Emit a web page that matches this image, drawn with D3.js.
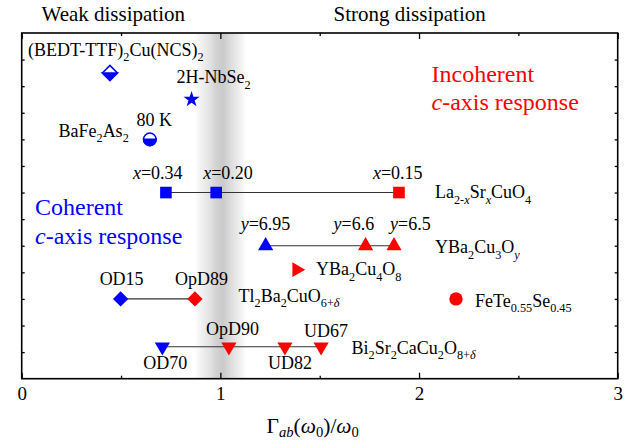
<!DOCTYPE html>
<html>
<head>
<meta charset="utf-8">
<script src="https://cdn.jsdelivr.net/npm/d3@7"></script>
<style>
  body { margin: 0; background: #fff; }
  svg text { font-family: "Liberation Serif", "DejaVu Serif", serif; }
</style>
</head>
<body>
<div id="chart"></div>
<script>
// ---- data ----
var laX = [0.726, 0.979, 1.899];          // La2-xSrxCuO4, y level 7
var laColor = ["blue", "blue", "red"];
var ybcoX = [1.228, 1.731, 1.874];        // YBa2Cu3Oy, y level 5
var ybcoColor = ["blue", "red", "red"];
var tlX = [0.498, 0.872];                 // Tl2201, y level 3
var tlColor = ["blue", "red"];
var biX = [0.708, 1.043, 1.325, 1.507];   // Bi2212, y level 1.2
var biColor = ["blue", "red", "red", "red"];
var rowLevels = { la: 7, ybco: 5, tl: 3, bi: 1.2 };

var singles = [
    { name: "bedt", x: 0.444, y: 11.5, kind: "halfDiamond", color: "blue" },
    { name: "nbse", x: 0.855, y: 10.5, kind: "star", color: "blue" },
    { name: "bafe", x: 0.645, y: 9.0, kind: "halfCircle", color: "blue" },
    { name: "y124", x: 1.384, y: 4.1, kind: "triRight", color: "red" },
    { name: "fete", x: 2.186, y: 3.0, kind: "circle", color: "red" }
];

var xTicksMajor = [0, 1, 2, 3];
var xTicksMinor = [0.5, 1.5, 2.5];
var yTicks = d3.range(1, 13);

var W = 641, H = 441;
var plot = { left: 21.7, right: 617.7, top: 33, bottom: 378.7 };
var SERIF = "'Liberation Serif', 'DejaVu Serif', serif";

var x = d3.scaleLinear().domain([0, 3]).range([plot.left, plot.right]);
var y = d3.scaleLinear().domain([0, 13]).range([plot.bottom, plot.top]);

var svg = d3.select("#chart").append("svg")
    .attr("width", W)
    .attr("height", H);

// gray band around Gamma/omega = 1
var defs = svg.append("defs");
var grad = defs.append("linearGradient").attr("id", "band");
[[0, "#ffffff"], [0.12, "#f2f2f2"], [0.3, "#e2e2e2"], [0.42, "#d2d2d2"],
 [0.55, "#cacaca"], [0.7, "#dcdcdc"], [0.85, "#ececec"], [1, "#ffffff"]]
    .forEach(function(s) {
        grad.append("stop").attr("offset", s[0]).attr("stop-color", s[1]);
    });
svg.append("rect")
    .attr("x", x(0.87))
    .attr("y", plot.top)
    .attr("width", x(1.13) - x(0.87))
    .attr("height", plot.bottom - plot.top)
    .attr("fill", "url(#band)");

// ---- axes ----
function styleAxis(g) {
    g.attr("font-family", SERIF);
    g.select(".domain").remove();
    g.selectAll(".tick line").attr("stroke", "#000").attr("stroke-width", 1.3);
}

svg.append("g").attr("transform", "translate(0," + plot.bottom + ")")
    .call(d3.axisBottom(x).tickValues(xTicksMajor).tickSize(-6).tickPadding(8)
        .tickFormat(d3.format("d")))
    .call(styleAxis)
    .selectAll("text").attr("font-size", 19).attr("font-family", SERIF);
svg.append("g").attr("transform", "translate(0," + plot.bottom + ")")
    .call(d3.axisBottom(x).tickValues(xTicksMinor).tickSize(-3).tickFormat(""))
    .call(styleAxis);
svg.append("g").attr("transform", "translate(0," + plot.top + ")")
    .call(d3.axisTop(x).tickValues(xTicksMajor).tickSize(-6).tickFormat(""))
    .call(styleAxis);
svg.append("g").attr("transform", "translate(0," + plot.top + ")")
    .call(d3.axisTop(x).tickValues(xTicksMinor).tickSize(-3).tickFormat(""))
    .call(styleAxis);
svg.append("g").attr("transform", "translate(" + plot.left + ",0)")
    .call(d3.axisLeft(y).tickValues(yTicks).tickSize(-3).tickFormat(""))
    .call(styleAxis);
svg.append("g").attr("transform", "translate(" + plot.right + ",0)")
    .call(d3.axisRight(y).tickValues(yTicks).tickSize(-3).tickFormat(""))
    .call(styleAxis);

svg.append("rect")
    .attr("x", plot.left).attr("y", plot.top)
    .attr("width", plot.right - plot.left).attr("height", plot.bottom - plot.top)
    .attr("fill", "none").attr("stroke", "#000").attr("stroke-width", 1.6);

// ---- rich text helper: segs = [[text, flags]] flags: s=subscript, i=italic ----
function rich(px, py, segs, size, color, shiftK) {
    var t = svg.append("text")
        .attr("x", px).attr("y", py)
        .attr("font-family", SERIF)
        .attr("font-size", size)
        .attr("fill", color || "#000");
    var shifted = false;
    var sh = size * (shiftK || 0.32);
    segs.forEach(function(s) {
        var f = s[1] || "";
        var sub = f.indexOf("s") >= 0;
        var sp = t.append("tspan").text(s[0]);
        if (sub && !shifted) { sp.attr("dy", sh); shifted = true; }
        if (!sub && shifted) { sp.attr("dy", -sh); shifted = false; }
        if (sub) sp.attr("font-size", size * 0.68);
        if (f.indexOf("i") >= 0) sp.attr("font-style", "italic");
    });
    return t;
}

// ---- connecting lines ----
var rows = [
    { xs: laX, level: rowLevels.la },
    { xs: ybcoX, level: rowLevels.ybco },
    { xs: tlX, level: rowLevels.tl },
    { xs: biX, level: rowLevels.bi }
];
svg.selectAll("line.row").data(rows).enter().append("line")
    .attr("class", "row")
    .attr("x1", function(d) { return x(d3.min(d.xs)); })
    .attr("x2", function(d) { return x(d3.max(d.xs)); })
    .attr("y1", function(d) { return y(d.level); })
    .attr("y2", function(d) { return y(d.level); })
    .attr("stroke", "#333").attr("stroke-width", 1.1);

// ---- markers ----
function sym(type, size, rot, data, colors, level) {
    svg.selectAll(null).data(data).enter().append("path")
        .attr("d", d3.symbol().type(type).size(size)())
        .attr("transform", function(d) {
            return "translate(" + x(d) + "," + y(level) + ") rotate(" + rot + ")";
        })
        .attr("fill", function(d, i) { return colors[i]; });
}

sym(d3.symbolSquare, 135, 0, laX, laColor, rowLevels.la);
sym(d3.symbolTriangle, 100, 0, ybcoX, ybcoColor, rowLevels.ybco);
sym(d3.symbolSquare, 118, 45, tlX, tlColor, rowLevels.tl);
sym(d3.symbolTriangle, 100, 180, biX, biColor, rowLevels.bi);

singles.forEach(function(p) {
    var cx = x(p.x), cy = y(p.y);
    var g = svg.append("g").attr("transform", "translate(" + cx + "," + cy + ")");
    if (p.kind === "halfDiamond") {
        var d = 7.5;
        g.append("path").attr("d", "M0," + (-d) + "L" + d + ",0L0," + d + "L" + (-d) + ",0Z")
            .attr("fill", "#fff").attr("stroke", p.color).attr("stroke-width", 1.5);
        g.append("path").attr("d", "M" + (-d) + ",0L" + d + ",0L0," + d + "Z")
            .attr("fill", p.color).attr("stroke", p.color).attr("stroke-width", 1.5)
            .attr("stroke-linejoin", "miter");
    } else if (p.kind === "halfCircle") {
        var r = 6.3;
        g.append("circle").attr("r", r).attr("fill", "#fff")
            .attr("stroke", p.color).attr("stroke-width", 1.5);
        g.append("path").attr("d", "M" + (-r) + ",0A" + r + "," + r + " 0 0 0 " + r + ",0Z")
            .attr("fill", p.color).attr("stroke", p.color).attr("stroke-width", 1.5);
    } else if (p.kind === "star") {
        g.append("path").attr("d", d3.symbol().type(d3.symbolStar).size(80)())
            .attr("fill", p.color);
    } else if (p.kind === "triRight") {
        g.append("path").attr("d", d3.symbol().type(d3.symbolTriangle).size(95)())
            .attr("transform", "rotate(90)").attr("fill", p.color);
    } else if (p.kind === "circle") {
        g.append("circle").attr("r", 6.7).attr("fill", p.color);
    }
});

// ---- region headers ----
rich(41.5, 21, [["Weak dissipation"]], 21);
rich(333.5, 21, [["Strong dissipation"]], 21);

rich(431.5, 81.5, [["Incoherent"]], 24, "red");
rich(431.5, 110, [["c", "i"], ["-axis response"]], 24, "red");
rich(35, 215, [["Coherent"]], 24, "blue");
rich(35, 244, [["c", "i"], ["-axis response"]], 24, "blue");

// ---- compound labels ----
var F = 18;
rich(28, 55.5, [["(BEDT-TTF)"], ["2", "s"], ["Cu(NCS)"], ["2", "s"]], F);
rich(176.5, 83, [["2H-NbSe"], ["2", "s"]], F);
rich(136.5, 126, [["80 K"]], F);
rich(58.5, 136.5, [["BaFe"], ["2", "s"], ["As"], ["2", "s"]], F);

rich(x(laX[0]) - 33, 178.5, [["x", "i"], ["=0.34"]], F);
rich(x(laX[1]) - 13, 178.5, [["x", "i"], ["=0.20"]], F);
rich(x(laX[2]) - 26, 178.5, [["x", "i"], ["=0.15"]], F);
rich(435, 198, [["La"], ["2-", "s"], ["x", "si"], ["Sr"], ["x", "si"], ["CuO"], ["4", "s"]], F);

rich(x(ybcoX[0]) - 25, 230, [["y", "i"], ["=6.95"]], F);
rich(x(ybcoX[1]) - 32, 230, [["y", "i"], ["=6.6"]], F);
rich(x(ybcoX[2]) - 4, 230, [["y", "i"], ["=6.5"]], F);
rich(435, 253, [["YBa"], ["2", "s"], ["Cu"], ["3", "s"], ["O"], ["y", "si"]], F);

rich(316, 275, [["YBa"], ["2", "s"], ["Cu"], ["4", "s"], ["O"], ["8", "s"]], F);

rich(x(tlX[0]) - 21, 285, [["OD15"]], F);
rich(x(tlX[1]) - 20, 285, [["OpD89"]], F);
rich(238.5, 301.5, [["Tl"], ["2", "s"], ["Ba"], ["2", "s"], ["CuO"], ["6+", "s"], ["\u03b4", "si"]], F);
rich(475, 306.5, [["FeTe"], ["0.55", "s"], ["Se"], ["0.45", "s"]], F);

rich(x(biX[1]) - 23, 334.5, [["OpD90"]], F);
rich(x(biX[3]) - 17, 336.5, [["UD67"]], F);
rich(x(biX[0]) - 19, 368.5, [["OD70"]], F);
rich(x(biX[2]) - 17, 368.5, [["UD82"]], F);
rich(351.5, 353.5, [["Bi"], ["2", "s"], ["Sr"], ["2", "s"], ["CaCu"], ["2", "s"], ["O"], ["8+", "s"], ["\u03b4", "si"]], F);

// ---- axis title ----
rich(266.5, 433, [["\u0393"], ["ab", "si"], ["("], ["\u03c9", "i"], ["0", "s"], [")/"], ["\u03c9", "i"], ["0", "s"]], 21.5, "#000", 0.2);
</script>
</body>
</html>
